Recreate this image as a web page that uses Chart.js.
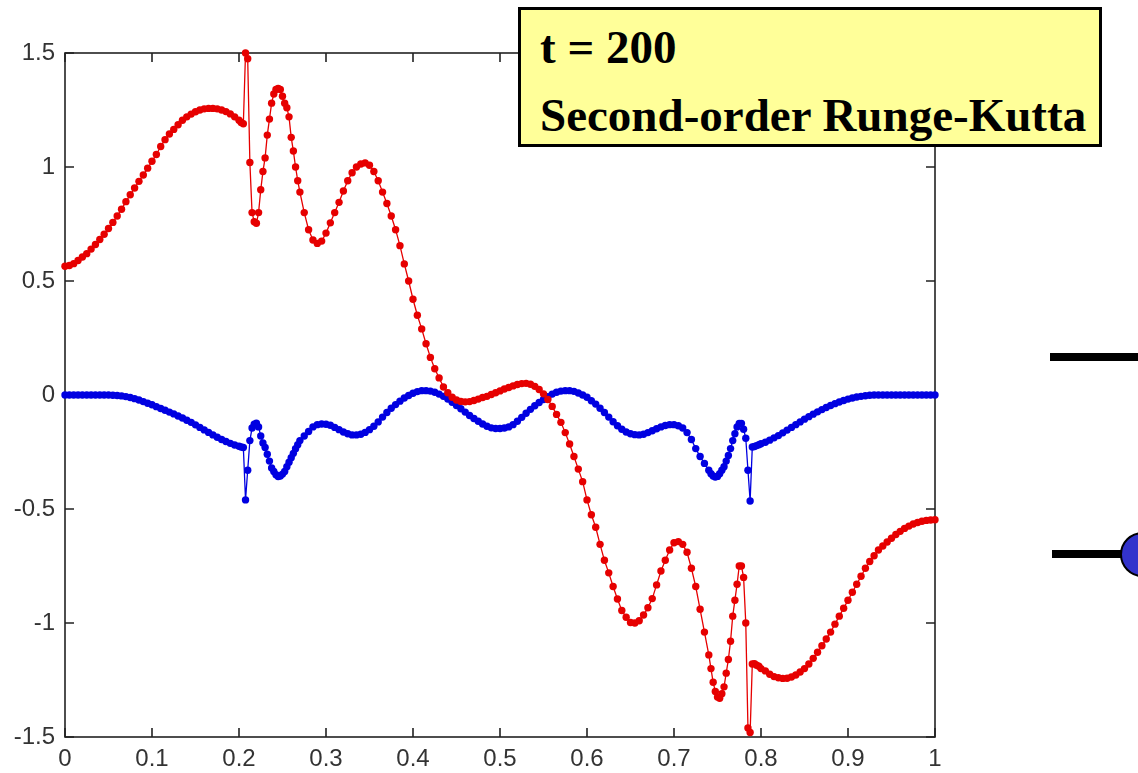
<!DOCTYPE html>
<html>
<head>
<meta charset="utf-8">
<script src="https://cdn.jsdelivr.net/npm/chart.js@4.4.1/dist/chart.umd.min.js"></script>
<style>
  html, body { margin: 0; padding: 0; background: #fff; }
  #wrap { position: relative; width: 1138px; height: 773px; overflow: hidden; }
  #note {
    position: absolute; left: 518px; top: 7px; width: 578px; height: 134px;
    background: #ffff99; border: 3px solid #000;
  }
  .line {
    position: absolute; left: 540px; font: bold 47px "Liberation Serif", "Times New Roman", serif;
    line-height: 47px; color: #000; white-space: nowrap;
  }
  .bar { position: absolute; background: #000; }
  #ball {
    position: absolute; left: 1120px; top: 532px; width: 41px; height: 41px;
    border-radius: 50%; background: #3333cc; border: 2px solid #000;
  }
</style>
</head>
<body>
<div id="wrap">
  <canvas id="chart"></canvas>
  <div id="note"></div>
  <div class="line" style="top:24px">t = 200</div>
  <div class="line" style="top:92px">Second-order Runge-Kutta</div>
  <div class="bar" style="left:1050px; top:353px; width:88px; height:8px"></div>
  <div class="bar" style="left:1052px; top:550px; width:70px; height:8px"></div>
  <div id="ball"></div>
</div>
<script>
"use strict";

// grid positions (finer around the two fronts)
const xPositions = [
  0, 0.005, 0.01, 0.015, 0.02, 0.025, 0.03, 0.035, 0.04, 0.045,
  0.05, 0.055, 0.06, 0.065, 0.07, 0.075, 0.08, 0.085, 0.09, 0.095,
  0.1, 0.105, 0.11, 0.115, 0.12, 0.125, 0.13, 0.135, 0.14, 0.145,
  0.15, 0.155, 0.16, 0.165, 0.17, 0.175, 0.18, 0.185, 0.19, 0.195,
  0.2,
  0.2025, 0.205, 0.2075, 0.21, 0.2125, 0.215, 0.2175, 0.22, 0.2225, 0.225,
  0.2275, 0.23, 0.2325, 0.235, 0.2375, 0.24, 0.2425, 0.245, 0.2475, 0.25,
  0.2525, 0.255, 0.2575, 0.26, 0.2625, 0.265, 0.2675, 0.27,
  0.275, 0.28, 0.285, 0.29, 0.295, 0.3, 0.305, 0.31, 0.315, 0.32,
  0.325, 0.33, 0.335, 0.34, 0.345, 0.35, 0.355, 0.36, 0.365, 0.37,
  0.375, 0.38, 0.385, 0.39, 0.395, 0.4, 0.405, 0.41, 0.415, 0.42,
  0.425, 0.43, 0.435, 0.44, 0.445, 0.45, 0.455, 0.46, 0.465, 0.47,
  0.475, 0.48, 0.485, 0.49, 0.495, 0.5, 0.505, 0.51, 0.515, 0.52,
  0.525, 0.53, 0.535, 0.54, 0.545, 0.55, 0.555, 0.56, 0.565, 0.57,
  0.575, 0.58, 0.585, 0.59, 0.595, 0.6, 0.605, 0.61, 0.615, 0.62,
  0.625, 0.63, 0.635, 0.64, 0.645, 0.65, 0.655, 0.66, 0.665, 0.67,
  0.675, 0.68, 0.685, 0.69, 0.695, 0.7, 0.705, 0.71, 0.715, 0.72,
  0.725, 0.73, 0.735, 0.74,
  0.7425, 0.745, 0.7475, 0.75, 0.7525, 0.755, 0.7575, 0.76, 0.7625, 0.765,
  0.7675, 0.77, 0.7725, 0.775, 0.7775, 0.78, 0.7825, 0.785, 0.7875, 0.79,
  0.7925, 0.795, 0.7975, 0.8,
  0.805, 0.81, 0.815, 0.82, 0.825, 0.83, 0.835, 0.84, 0.845, 0.85,
  0.855, 0.86, 0.865, 0.87, 0.875, 0.88, 0.885, 0.89, 0.895, 0.9,
  0.905, 0.91, 0.915, 0.92, 0.925, 0.93, 0.935, 0.94, 0.945, 0.95,
  0.955, 0.96, 0.965, 0.97, 0.975, 0.98, 0.985, 0.99, 0.995, 1
];

// red curve
const redValues = [
  0.565, 0.568, 0.576, 0.59, 0.605, 0.62, 0.64, 0.66, 0.682, 0.705,
  0.73, 0.757, 0.785, 0.815, 0.848, 0.878, 0.908, 0.937, 0.965, 0.995,
  1.025, 1.055, 1.09, 1.12, 1.145, 1.165, 1.185, 1.205, 1.22, 1.232,
  1.242, 1.25, 1.255, 1.257, 1.257, 1.255, 1.25, 1.243, 1.233, 1.22,
  1.205,
  1.195, 1.19, 1.5, 1.475, 1.02, 0.8, 0.76, 0.753, 0.8, 0.9,
  0.98, 1.04, 1.14, 1.21, 1.28, 1.32, 1.34, 1.345, 1.34, 1.31,
  1.28, 1.26, 1.22, 1.13, 1.07, 1.0, 0.94, 0.89,
  0.8, 0.725, 0.68, 0.665, 0.675, 0.71, 0.755, 0.8, 0.845, 0.895,
  0.94, 0.975, 1.0, 1.013, 1.018, 1.008, 0.98, 0.94, 0.89, 0.84,
  0.785, 0.725, 0.655, 0.575, 0.5, 0.42, 0.35, 0.29, 0.225, 0.165,
  0.115, 0.075, 0.035, 0.01, -0.01, -0.022, -0.028, -0.03, -0.029, -0.024,
  -0.018, -0.011, -0.006, 0.002, 0.01, 0.018, 0.026, 0.033, 0.04, 0.046,
  0.05, 0.051, 0.047, 0.038, 0.024, 0.005, -0.02, -0.05, -0.085, -0.12,
  -0.165, -0.215, -0.27, -0.325, -0.38, -0.46, -0.525, -0.58, -0.655, -0.725,
  -0.78, -0.84, -0.895, -0.945, -0.975, -0.998, -1.0, -0.99, -0.965, -0.933,
  -0.893, -0.833, -0.772, -0.725, -0.68, -0.648, -0.643, -0.655, -0.69, -0.76,
  -0.84, -0.94, -1.04, -1.14,
  -1.2, -1.26, -1.3, -1.325, -1.33, -1.31, -1.28, -1.22, -1.16, -1.08,
  -0.97, -0.9, -0.83, -0.75, -0.75, -0.8, -1.0, -1.46, -1.48, -1.18,
  -1.178, -1.185, -1.19, -1.2,
  -1.21, -1.225, -1.235, -1.24, -1.243, -1.242, -1.237, -1.228, -1.215, -1.2,
  -1.18, -1.155, -1.128, -1.1, -1.07, -1.04, -1.005, -0.97, -0.935, -0.9,
  -0.865, -0.83, -0.795, -0.76, -0.73, -0.705, -0.68, -0.662, -0.645, -0.628,
  -0.612, -0.598, -0.585, -0.575, -0.566, -0.559, -0.554, -0.55, -0.548, -0.547
];

// blue curve
const blueValues = [
  0, 0, 0, 0, 0, 0, 0, 0, 0, 0,
  0, -0.001, -0.002, -0.004, -0.007, -0.011, -0.016, -0.022, -0.029, -0.036,
  -0.043, -0.051, -0.059, -0.067, -0.075, -0.083, -0.092, -0.101, -0.111, -0.12,
  -0.131, -0.142, -0.153, -0.164, -0.175, -0.185, -0.195, -0.204, -0.212, -0.219,
  -0.225,
  -0.228, -0.23, -0.46, -0.33, -0.2, -0.145, -0.128, -0.124, -0.14, -0.18,
  -0.21, -0.23, -0.26, -0.29, -0.32, -0.335, -0.35, -0.358, -0.355, -0.347,
  -0.335, -0.315, -0.295, -0.275, -0.256, -0.236, -0.218, -0.2,
  -0.18, -0.16, -0.14, -0.13, -0.127, -0.128, -0.133, -0.142, -0.152, -0.162,
  -0.17, -0.175, -0.175, -0.172, -0.164, -0.152, -0.137, -0.118, -0.097, -0.077,
  -0.058, -0.042, -0.027, -0.013, -0.002, 0.008, 0.015, 0.019, 0.019, 0.017,
  0.012, 0.004, -0.006, -0.018, -0.032, -0.046, -0.06, -0.075, -0.09, -0.103,
  -0.115, -0.127, -0.137, -0.144, -0.147, -0.147, -0.145, -0.14, -0.13, -0.115,
  -0.098, -0.08, -0.063, -0.047, -0.033, -0.02, -0.008, 0.004, 0.012, 0.017,
  0.019, 0.019, 0.016, 0.009, 0, -0.01, -0.025, -0.04, -0.058, -0.077,
  -0.097, -0.117, -0.135, -0.15, -0.162, -0.17, -0.174, -0.175, -0.172, -0.165,
  -0.157, -0.148, -0.14, -0.134, -0.13, -0.13, -0.135, -0.145, -0.165, -0.195,
  -0.235, -0.27, -0.3, -0.33,
  -0.345, -0.355, -0.36, -0.357, -0.345, -0.33, -0.315, -0.29, -0.265, -0.235,
  -0.2, -0.17, -0.14, -0.125, -0.125, -0.15, -0.19, -0.33, -0.465, -0.228,
  -0.226, -0.222, -0.218, -0.214,
  -0.207, -0.198, -0.188, -0.178, -0.166, -0.154, -0.142, -0.13, -0.118, -0.106,
  -0.095, -0.084, -0.074, -0.064, -0.055, -0.046, -0.038, -0.031, -0.024, -0.018,
  -0.013, -0.009, -0.006, -0.003, -0.001, 0, 0, 0, 0, 0,
  0, 0, 0, 0, 0, 0, 0, 0, 0, 0
];

const xTicks = [0, 0.1, 0.2, 0.3, 0.4, 0.5, 0.6, 0.7, 0.8, 0.9, 1];
const yTicks = [-1.5, -1, -0.5, 0, 0.5, 1, 1.5];

const RED = 'rgb(230, 0, 0)';
const BLUE = 'rgb(0, 0, 225)';

const points = (values) => xPositions.map((x, i) => ({ x: x, y: values[i] }));

// matlab-ish box with inward ticks on all four sides
const frameTicks = {
  id: 'frameTicks',
  beforeDatasetsDraw(chart) {
    const { ctx, chartArea: a, scales } = chart;
    const len = 9;
    ctx.save();
    ctx.strokeStyle = '#222';
    ctx.lineWidth = 1.6;
    ctx.strokeRect(a.left, a.top, a.right - a.left, a.bottom - a.top);
    ctx.beginPath();
    xTicks.forEach(v => {
      const px = scales.x.getPixelForValue(v);
      ctx.moveTo(px, a.bottom); ctx.lineTo(px, a.bottom - len);
      ctx.moveTo(px, a.top); ctx.lineTo(px, a.top + len);
    });
    yTicks.forEach(v => {
      const py = scales.y.getPixelForValue(v);
      ctx.moveTo(a.left, py); ctx.lineTo(a.left + len, py);
      ctx.moveTo(a.right, py); ctx.lineTo(a.right - len, py);
    });
    ctx.stroke();
    ctx.restore();
  }
};

const tickFont = { family: '"Liberation Sans", Arial, sans-serif', size: 24 };
const fmt = (v) => String(Math.round(v * 10) / 10);

const series = (values, colour) => ({
  data: points(values),
  borderColor: colour,
  backgroundColor: colour,
  borderWidth: 1.3,
  pointRadius: 3.7,
  pointBorderWidth: 0,
  pointBackgroundColor: colour,
  tension: 0,
  clip: false
});

new Chart(document.getElementById('chart'), {
  type: 'line',
  data: {
    datasets: [series(redValues, RED), series(blueValues, BLUE)]
  },
  options: {
    responsive: true,
    maintainAspectRatio: false,
    animation: false,
    layout: { padding: { left: 0, top: 53, right: 203, bottom: 0 } },
    plugins: { legend: { display: false }, tooltip: { enabled: false } },
    scales: {
      x: {
        type: 'linear',
        min: 0,
        max: 1,
        afterFit: (scale) => { scale.height = 36; },
        afterBuildTicks: (scale) => { scale.ticks = xTicks.map(v => ({ value: v })); },
        grid: { display: false, drawTicks: false },
        border: { display: false },
        ticks: { color: '#333', font: tickFont, padding: 8, maxRotation: 0, callback: fmt }
      },
      y: {
        type: 'linear',
        min: -1.5,
        max: 1.5,
        afterFit: (scale) => { scale.width = 65; },
        afterBuildTicks: (scale) => { scale.ticks = yTicks.map(v => ({ value: v })); },
        grid: { display: false, drawTicks: false },
        border: { display: false },
        ticks: { color: '#333', font: tickFont, padding: 10, callback: fmt }
      }
    }
  },
  plugins: [frameTicks]
});
</script>
</body>
</html>
